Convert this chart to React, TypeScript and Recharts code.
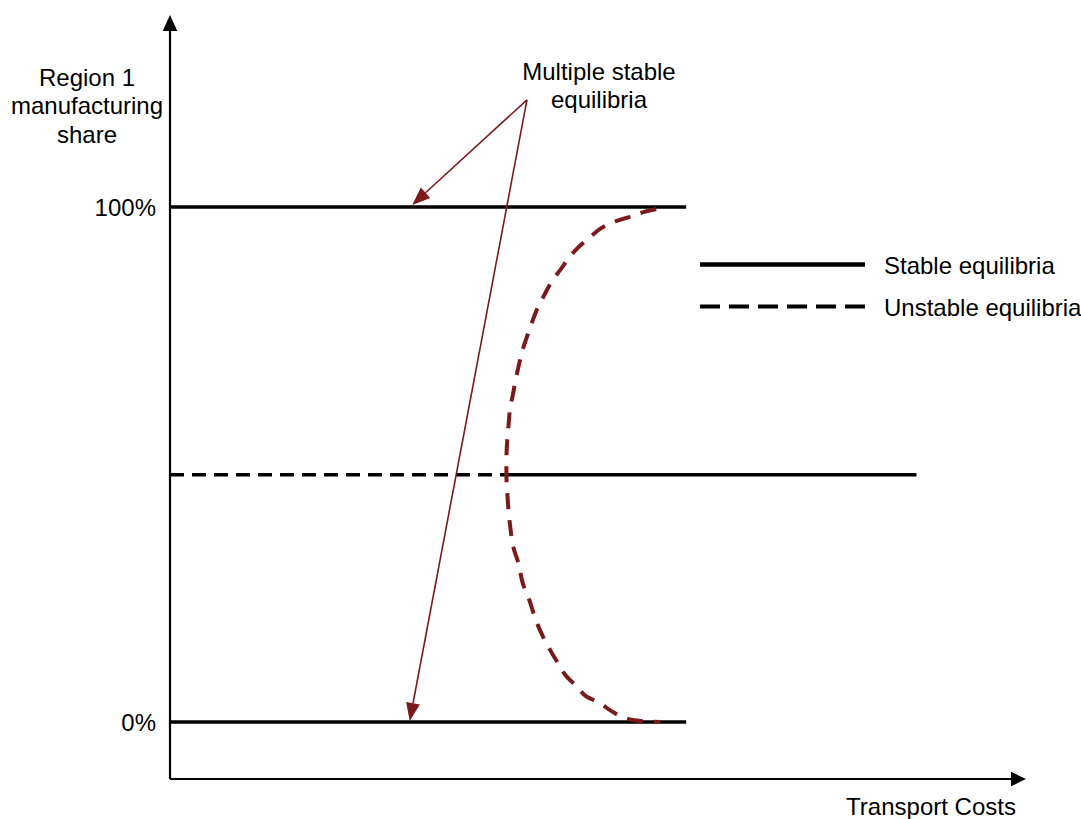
import React from "react";
import {
  ComposedChart,
  Line,
  XAxis,
  YAxis,
  ReferenceLine,
} from "recharts";

// Chart units: transport cost 0..100 (horizontal), manufacturing share in % (vertical)
const COST_DOMAIN: [number, number] = [0, 100];
const SHARE_DOMAIN: [number, number] = [-11.07, 137.28];
const SHARE_TICKS = [0, 100];

const STABLE_TOP = [
  { cost: 0, share: 100 },
  { cost: 60.3, share: 100 },
];
const STABLE_BOTTOM = [
  { cost: 0, share: 0 },
  { cost: 60.3, share: 0 },
];
const SYMMETRIC_UNSTABLE = [
  { cost: 0, share: 48 },
  { cost: 39.2, share: 48 },
];
const SYMMETRIC_STABLE = [
  { cost: 39.2, share: 48 },
  { cost: 87.2, share: 48 },
];
const UNSTABLE_CURVE = [
  { cost: 56.8, share: 99.6 },
  { cost: 55.3, share: 99.0 },
  { cost: 53.7, share: 98.1 },
  { cost: 52.2, share: 97.3 },
  { cost: 50.6, share: 96.1 },
  { cost: 49.1, share: 94.2 },
  { cost: 47.6, share: 92.0 },
  { cost: 46.7, share: 90.3 },
  { cost: 45.6, share: 87.8 },
  { cost: 44.7, share: 85.8 },
  { cost: 43.6, share: 82.5 },
  { cost: 43.0, share: 80.6 },
  { cost: 42.1, share: 76.7 },
  { cost: 41.7, share: 74.8 },
  { cost: 41.1, share: 71.7 },
  { cost: 40.7, share: 68.9 },
  { cost: 40.3, share: 65.8 },
  { cost: 40.1, share: 63.9 },
  { cost: 39.7, share: 60.6 },
  { cost: 39.6, share: 58.6 },
  { cost: 39.4, share: 54.8 },
  { cost: 39.3, share: 50.9 },
  { cost: 39.3, share: 48.0 },
  { cost: 39.4, share: 44.5 },
  { cost: 39.7, share: 38.6 },
  { cost: 40.2, share: 33.4 },
  { cost: 40.7, share: 30.9 },
  { cost: 41.2, share: 27.0 },
  { cost: 42.1, share: 23.1 },
  { cost: 42.6, share: 20.4 },
  { cost: 43.6, share: 16.5 },
  { cost: 44.4, share: 14.0 },
  { cost: 45.3, share: 11.5 },
  { cost: 46.4, share: 8.7 },
  { cost: 47.6, share: 6.8 },
  { cost: 48.7, share: 4.9 },
  { cost: 50.2, share: 3.7 },
  { cost: 51.4, share: 2.3 },
  { cost: 52.9, share: 1.0 },
  { cost: 54.1, share: 0.4 },
  { cost: 55.7, share: 0.1 },
  { cost: 57.3, share: 0.0 },
];

// annotation arrows: from the label down to the two stable outcomes
const ANNOTATION_FROM = { cost: 41.7, share: 120.8 };
const ANNOTATION_TO = [
  { cost: 28.3, share: 100.4 },
  { cost: 28.0, share: 0.2 },
];

const Y_TITLE = ["Region 1", "manufacturing", "share"];
const NOTE_LINES = ["Multiple stable", "equilibria"];
const X_TITLE = "Transport Costs";
const LEGEND_ITEMS = [
  { label: "Stable equilibria", dash: undefined },
  { label: "Unstable equilibria", dash: "20 9" },
];

const RED = "#7b1a1a";
const FONT = '"Liberation Sans", Arial, sans-serif';
const FS = 24;

const arrow =
  (color: string, width: number, headLen: number, headHalf: number) =>
  (props: any) => {
    const { x1, y1, x2, y2 } = props;
    const dx = x2 - x1;
    const dy = y2 - y1;
    const len = Math.hypot(dx, dy) || 1;
    const ux = dx / len;
    const uy = dy / len;
    const bx = x2 - ux * headLen;
    const by = y2 - uy * headLen;
    const px = -uy * headHalf;
    const py = ux * headHalf;
    return (
      <g>
        <line x1={x1} y1={y1} x2={bx} y2={by} stroke={color} strokeWidth={width} />
        <polygon
          points={`${x2},${y2} ${bx + px},${by + py} ${bx - px},${by - py}`}
          fill={color}
        />
      </g>
    );
  };

export default function App() {
  return (
    <div style={{ position: "absolute", left: 0, top: 0, width: 1081, height: 819, background: "#fff" }}>
      <ComposedChart
        width={1081}
        height={819}
        margin={{ top: 15, right: 55, bottom: 40, left: 100 }}
        style={{ fontFamily: FONT }}
      >
        <XAxis type="number" dataKey="cost" domain={COST_DOMAIN} allowDataOverflow hide />
        <YAxis
          type="number"
          dataKey="share"
          domain={SHARE_DOMAIN}
          allowDataOverflow
          ticks={SHARE_TICKS}
          tickFormatter={(v: number) => `${v}%`}
          width={70}
          axisLine={false}
          tickLine={false}
          tickSize={0}
          tickMargin={14}
          interval={0}
          tick={{ fill: "#000", fontSize: FS, fontFamily: FONT }}
        />

        {/* axes with arrowheads */}
        <ReferenceLine
          segment={[
            { x: COST_DOMAIN[0], y: SHARE_DOMAIN[0] },
            { x: COST_DOMAIN[0], y: SHARE_DOMAIN[1] },
          ]}
          ifOverflow="visible"
          shape={arrow("#000", 2.2, 16, 7.3)}
        />
        <ReferenceLine
          segment={[
            { x: COST_DOMAIN[0], y: SHARE_DOMAIN[0] },
            { x: COST_DOMAIN[1], y: SHARE_DOMAIN[0] },
          ]}
          ifOverflow="visible"
          shape={arrow("#000", 2.2, 15, 7.3)}
        />

        <Line data={STABLE_TOP} dataKey="share" stroke="#000" strokeWidth={3.5} dot={false} isAnimationActive={false} type="linear" />
        <Line data={STABLE_BOTTOM} dataKey="share" stroke="#000" strokeWidth={3.5} dot={false} isAnimationActive={false} type="linear" />
        <Line
          data={SYMMETRIC_UNSTABLE}
          dataKey="share"
          stroke="#000"
          strokeWidth={3.5}
          strokeDasharray="14 8"
          dot={false}
          isAnimationActive={false}
          type="linear"
        />
        <Line data={SYMMETRIC_STABLE} dataKey="share" stroke="#000" strokeWidth={3.5} dot={false} isAnimationActive={false} type="linear" />
        <Line
          data={UNSTABLE_CURVE}
          dataKey="share"
          stroke={RED}
          strokeWidth={4}
          strokeDasharray="16 11"
          dot={false}
          isAnimationActive={false}
          type="monotoneY"
        />

        {ANNOTATION_TO.map((p, i) => (
          <ReferenceLine
            key={i}
            segment={[
              { x: ANNOTATION_FROM.cost, y: ANNOTATION_FROM.share },
              { x: p.cost, y: p.share },
            ]}
            ifOverflow="visible"
            shape={arrow(RED, 1.6, 18, 7)}
          />
        ))}
      </ComposedChart>

      {/* free text annotations and the legend */}
      <svg
        width={1081}
        height={819}
        style={{ position: "absolute", left: 0, top: 0, pointerEvents: "none" }}
      >
        <g fontFamily={FONT} fontSize={FS} fill="#000" textAnchor="middle">
          {Y_TITLE.map((t, i) => (
            <text key={t} x={87} y={86 + i * 28.3}>
              {t}
            </text>
          ))}
          {NOTE_LINES.map((t, i) => (
            <text key={t} x={599} y={80 + i * 28.3}>
              {t}
            </text>
          ))}
          <text x={931} y={815}>
            {X_TITLE}
          </text>
        </g>
        {LEGEND_ITEMS.map((item, i) => (
          <g key={item.label}>
            <line
              x1={700}
              x2={865}
              y1={264.5 + i * 42}
              y2={264.5 + i * 42}
              stroke="#000"
              strokeWidth={item.dash ? 4 : 4.5}
              strokeDasharray={item.dash}
            />
            <text
              x={884}
              y={265.5 + i * 42}
              dy="0.355em"
              fontFamily={FONT}
              fontSize={FS}
              fill="#000"
            >
              {item.label}
            </text>
          </g>
        ))}
      </svg>
    </div>
  );
}
